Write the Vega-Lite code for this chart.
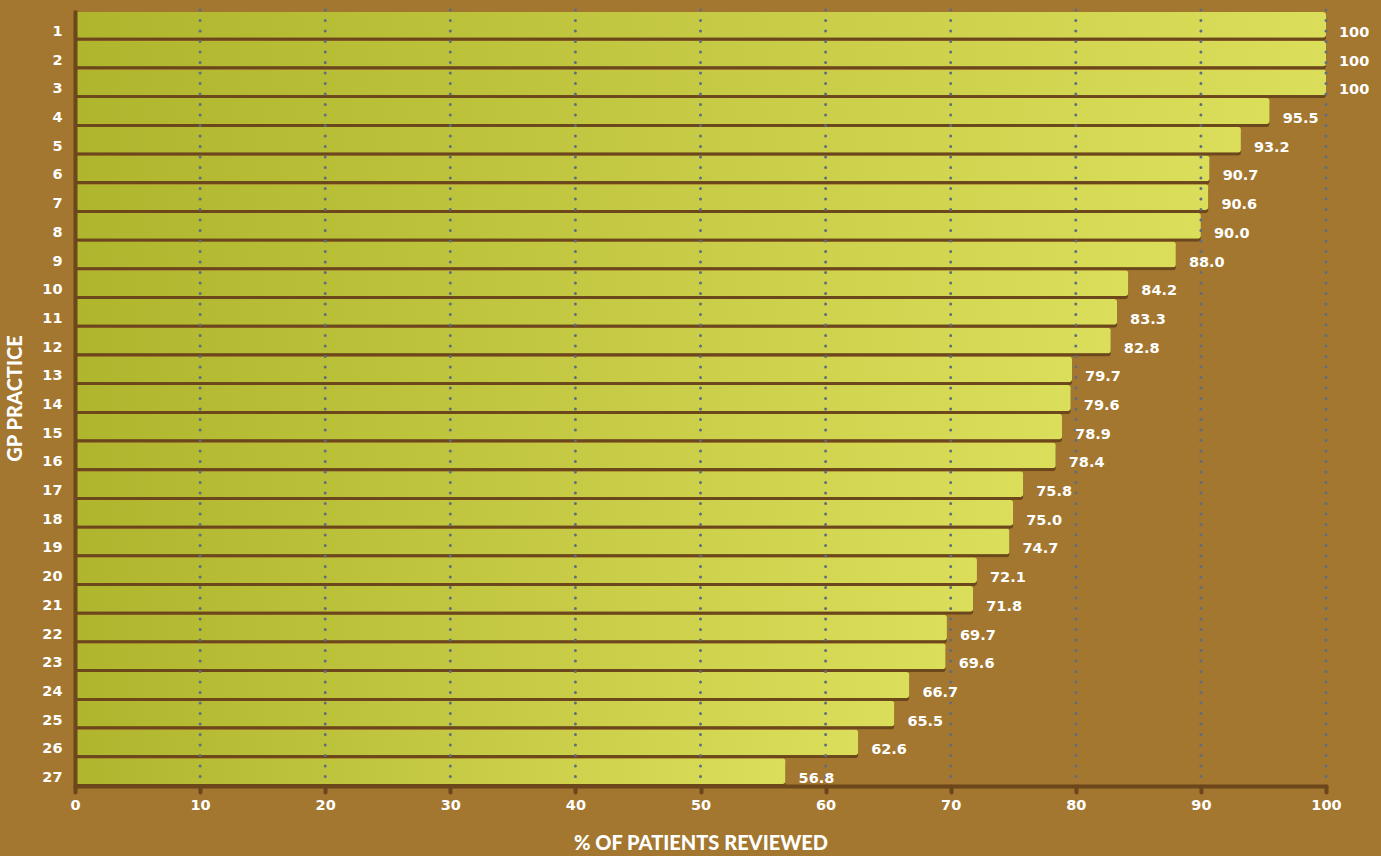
{
  "$schema": "https://vega.github.io/schema/vega-lite/v6.json",
  "width": 1251,
  "height": 776,
  "autosize": {"type": "none"},
  "padding": {"left": 75, "top": 10, "right": 55, "bottom": 70},
  "background": "#a3772f",
  "config": {
    "view": {"stroke": null},
    "font": "Lato"
  },
  "datasets": {
    "practices": [
      {"practice": "1", "pct": 100, "label": "100"},
      {"practice": "2", "pct": 100, "label": "100"},
      {"practice": "3", "pct": 100, "label": "100"},
      {"practice": "4", "pct": 95.5, "label": "95.5"},
      {"practice": "5", "pct": 93.2, "label": "93.2"},
      {"practice": "6", "pct": 90.7, "label": "90.7"},
      {"practice": "7", "pct": 90.6, "label": "90.6"},
      {"practice": "8", "pct": 90.0, "label": "90.0"},
      {"practice": "9", "pct": 88.0, "label": "88.0"},
      {"practice": "10", "pct": 84.2, "label": "84.2"},
      {"practice": "11", "pct": 83.3, "label": "83.3"},
      {"practice": "12", "pct": 82.8, "label": "82.8"},
      {"practice": "13", "pct": 79.7, "label": "79.7"},
      {"practice": "14", "pct": 79.6, "label": "79.6"},
      {"practice": "15", "pct": 78.9, "label": "78.9"},
      {"practice": "16", "pct": 78.4, "label": "78.4"},
      {"practice": "17", "pct": 75.8, "label": "75.8"},
      {"practice": "18", "pct": 75.0, "label": "75.0"},
      {"practice": "19", "pct": 74.7, "label": "74.7"},
      {"practice": "20", "pct": 72.1, "label": "72.1"},
      {"practice": "21", "pct": 71.8, "label": "71.8"},
      {"practice": "22", "pct": 69.7, "label": "69.7"},
      {"practice": "23", "pct": 69.6, "label": "69.6"},
      {"practice": "24", "pct": 66.7, "label": "66.7"},
      {"practice": "25", "pct": 65.5, "label": "65.5"},
      {"practice": "26", "pct": 62.6, "label": "62.6"},
      {"practice": "27", "pct": 56.8, "label": "56.8"}
    ],
    "gridlines": [
      {"pct": 10}, {"pct": 20}, {"pct": 30}, {"pct": 40}, {"pct": 50},
      {"pct": 60}, {"pct": 70}, {"pct": 80}, {"pct": 90}, {"pct": 100}
    ]
  },
  "data": {"name": "practices"},
  "layer": [
    {
      "mark": {
        "type": "bar",
        "color": "#6b471b",
        "yOffset": 3,
        "cornerRadiusTopRight": 3,
        "cornerRadiusBottomRight": 3
      },
      "encoding": {
        "y": {
          "field": "practice",
          "type": "ordinal",
          "sort": null,
          "scale": {"paddingInner": 0.1, "paddingOuter": 0.07},
          "axis": {
            "title": "GP PRACTICE",
            "titleFont": "Lato",
            "titleColor": "#ffffff",
            "titleFontSize": 20,
            "titleFontWeight": 900,
            "titleAngle": -90,
            "titleX": -60,
            "titleY": 388,
            "titleAlign": "center",
            "titleBaseline": "middle",
            "labelFont": "DejaVu Sans",
            "labelColor": "#ffffff",
            "labelFontSize": 14.5,
            "labelFontWeight": "bold",
            "labelPadding": 13,
            "labelOffset": 7,
            "ticks": false,
            "domainColor": "#6b471b",
            "domainWidth": 4,
            "grid": false,
            "zindex": 1
          }
        },
        "x": {
          "field": "pct",
          "type": "quantitative",
          "scale": {"domain": [0, 100], "nice": false},
          "axis": {
            "title": "% OF PATIENTS REVIEWED",
            "titleFont": "Lato",
            "titleColor": "#ffffff",
            "titleFontSize": 20,
            "titleFontWeight": 900,
            "titlePadding": 22,
            "values": [0, 10, 20, 30, 40, 50, 60, 70, 80, 90, 100],
            "labelFont": "DejaVu Sans",
            "labelColor": "#ffffff",
            "labelFontSize": 14.5,
            "labelFontWeight": "bold",
            "labelPadding": 6,
            "labelFlush": false,
            "tickColor": "#6b471b",
            "tickWidth": 4,
            "tickSize": 6,
            "tickCap": "round",
            "domainColor": "#6b471b",
            "domainWidth": 4,
            "domainCap": "round",
            "grid": false,
            "zindex": 1
          }
        }
      }
    },
    {
      "mark": {
        "type": "bar",
        "cornerRadiusTopRight": 3,
        "cornerRadiusBottomRight": 3,
        "color": {
          "gradient": "linear",
          "x1": 0, "x2": 1, "y1": 0, "y2": 0,
          "stops": [
            {"offset": 0, "color": "#afb52d"},
            {"offset": 1, "color": "#dbde5a"}
          ]
        }
      },
      "encoding": {
        "y": {"field": "practice", "type": "ordinal", "sort": null},
        "x": {"field": "pct", "type": "quantitative"}
      }
    },
    {
      "data": {"name": "gridlines"},
      "mark": {
        "type": "rule",
        "color": "#5f6d80",
        "strokeWidth": 3,
        "strokeCap": "round",
        "strokeDash": [0.1, 10.4]
      },
      "encoding": {
        "x": {"field": "pct", "type": "quantitative"}
      }
    },
    {
      "mark": {
        "type": "text",
        "align": "left",
        "baseline": "middle",
        "dx": 13,
        "dy": 8,
        "font": "DejaVu Sans",
        "fontSize": 14.5,
        "fontWeight": "bold",
        "color": "#ffffff"
      },
      "encoding": {
        "y": {"field": "practice", "type": "ordinal", "sort": null},
        "x": {"field": "pct", "type": "quantitative"},
        "text": {"field": "label"}
      }
    }
  ]
}
